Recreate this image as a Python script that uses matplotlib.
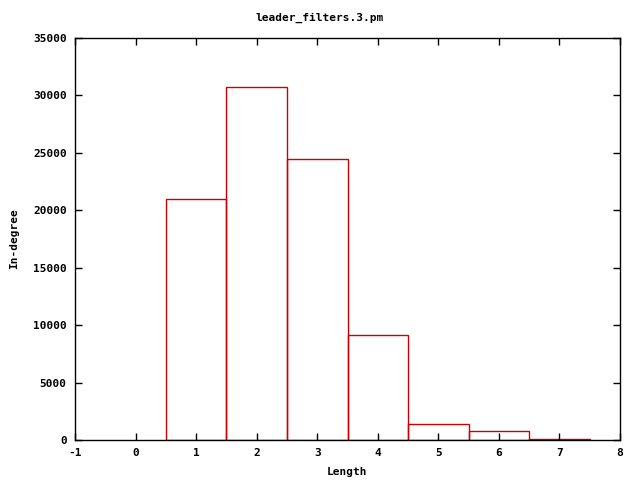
import matplotlib
matplotlib.use("Agg")
import matplotlib.pyplot as plt

# histogram values
lengths = [1, 2, 3, 4, 5, 6, 7]
counts = [21000, 30750, 24450, 9150, 1400, 780, 100]
xticks = [-1, 0, 1, 2, 3, 4, 5, 6, 7, 8]
yticks = [0, 5000, 10000, 15000, 20000, 25000, 30000, 35000]

plt.rcParams['font.family'] = 'DejaVu Sans Mono'
plt.rcParams['font.weight'] = 'bold'
plt.rcParams['font.size'] = 8
plt.rcParams['axes.unicode_minus'] = False

fig = plt.figure(figsize=(6.4, 4.8), dpi=100)
ax = fig.add_axes([75 / 640, 1 - 440 / 480, 545 / 640, 402 / 480])

ax.bar(lengths, counts, width=1.0, fill=False, edgecolor='#cc0000', linewidth=1.0)

ax.set_xlim(-1, 8)
ax.set_ylim(0, 35000)
ax.set_xticks(xticks)
ax.set_yticks(yticks)
ax.tick_params(direction='in', top=True, right=True, length=5, width=1, pad=6)
for s in ax.spines.values():
    s.set_linewidth(1)

ax.set_xlabel('Length', fontweight='bold', labelpad=6)
ax.set_ylabel('In-degree', fontweight='bold', labelpad=10)
fig.text(0.5, 1 - 18 / 480, 'leader_filters.3.pm', ha='center', va='center', fontweight='bold')

fig.savefig('out.png', dpi=100)
